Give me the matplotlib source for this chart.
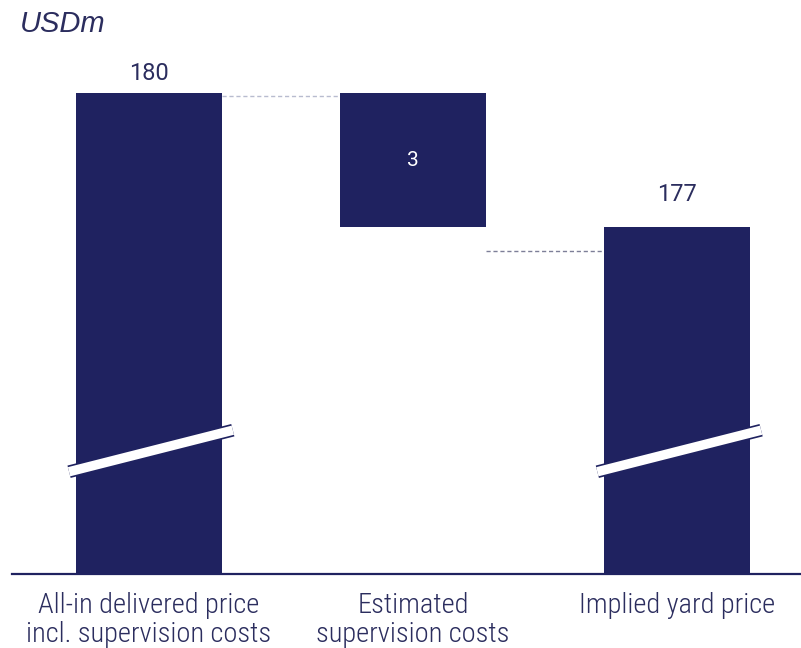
import matplotlib.pyplot as plt
from matplotlib import font_manager
import matplotlib.transforms as mtransforms

# Waterfall from all-in delivered price down to implied yard price (USDm)
categories = ["All-in delivered price\nincl. supervision costs",
              "Estimated\nsupervision costs",
              "Implied yard price"]
start_value = 180
supervision_cost = 3
end_value = start_value - supervision_cost
value_labels = ["180", "3", "177"]

NAVY = "#1f2260"
TEXT = "#2b2d5e"


def pick_font(candidates):
    names = {f.name for f in font_manager.fontManager.ttflist}
    for name in candidates:
        if name in names:
            return name
    return "DejaVu Sans"


label_font = pick_font(["Roboto Condensed", "Fira Sans Condensed", "Barlow Semi Condensed",
                        "Archivo Narrow"])
number_font = pick_font(["Roboto", "Open Sans", "Lato"])

fig = plt.figure(figsize=(8.01, 6.48), dpi=100)
ax = fig.add_axes([12 / 801, 74 / 648, 1 - 12 / 801, 514 / 648])

# broken axis: the visible range starts well above zero
y_floor = 169.23
ax.set_ylim(y_floor, 180.74)
ax.set_xlim(-0.518, 2.469)

x = [0, 1, 2]
width = 0.552
tops = [start_value, start_value, end_value]
bottoms = [y_floor, end_value, y_floor]
ax.bar(x, [t - b for t, b in zip(tops, bottoms)], bottom=bottoms,
       width=width, color=NAVY, zorder=2)


# dashed connectors between the bars
def px_shift(dy):
    return mtransforms.offset_copy(ax.transData, fig=fig, x=0, y=dy, units="dots")


ax.plot([x[0] + width / 2, x[1] - width / 2], [start_value, start_value],
        ls=(0, (3, 2)), lw=1.0, color="#b8bccf", transform=px_shift(-3), zorder=1)
ax.plot([x[1] + width / 2, x[2] - width / 2], [end_value, end_value],
        ls=(0, (3, 2)), lw=1.0, color="#7d7f98", transform=px_shift(-24), zorder=1)

# break marks across the full-height bars
for xi in (x[0], x[2]):
    bx = [xi - 0.302, xi + 0.318]
    by = [171.52, 172.45]
    ax.plot(bx, by, color=NAVY, lw=9.2, solid_capstyle="butt", zorder=3)
    ax.plot(bx, by, color="white", lw=6.8, solid_capstyle="butt", zorder=4)

# value labels
ax.annotate(value_labels[0], (x[0], start_value), xytext=(0, 6), textcoords="offset points",
            ha="center", va="bottom", fontsize=17, color=TEXT, family=number_font)
ax.annotate(value_labels[2], (x[2], end_value), xytext=(0, 15), textcoords="offset points",
            ha="center", va="bottom", fontsize=17, color=TEXT, family=number_font)
ax.text(x[1], end_value + supervision_cost / 2, value_labels[1], ha="center", va="center",
        fontsize=15, color="white", family=number_font)

ax.set_xticks(x)
ax.set_xticklabels(categories, fontsize=20.5, color=TEXT, family=label_font,
                   fontweight="light", linespacing=1.08)
ax.tick_params(axis="x", length=0, pad=13)
ax.set_yticks([])
for side in ("left", "right", "top"):
    ax.spines[side].set_visible(False)
ax.spines["bottom"].set_color(NAVY)
ax.spines["bottom"].set_linewidth(1.6)

fig.text(20 / 801, 1 - 32 / 648, "USDm", fontsize=21, style="italic", color=TEXT,
         ha="left", va="baseline", family="Liberation Sans")

fig.savefig("out.png", dpi=100)
